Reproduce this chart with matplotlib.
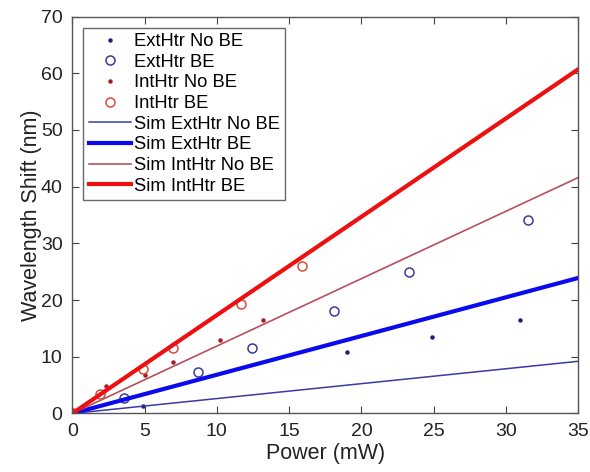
import matplotlib
matplotlib.use("Agg")
import matplotlib.pyplot as plt
import numpy as np

plt.rcParams['font.family'] = ['Liberation Sans', 'DejaVu Sans']

# Measured data
ext_nobe_x = [0, 4.9, 19.0, 24.9, 31.0]
ext_nobe_y = [0, 1.4, 10.9, 13.4, 16.4]
ext_be_x = [0, 3.6, 8.7, 12.4, 18.1, 23.3, 31.5]
ext_be_y = [0, 2.8, 7.4, 11.6, 18.1, 24.9, 34.1]
int_nobe_x = [0, 2.3, 5.0, 7.0, 10.2, 13.2]
int_nobe_y = [0, 4.9, 6.8, 9.1, 12.9, 16.4]
int_be_x = [0, 1.9, 4.9, 7.0, 11.7, 15.9]
int_be_y = [0, 3.5, 7.9, 11.6, 19.3, 26.0]

# Simulated lines
sim_x = [0, 35]
sim_ext_nobe = [0, 9.2]
sim_ext_be = [0, 23.9]
sim_int_nobe = [0, 41.6]
sim_int_be = [0, 60.7]

labels = ["ExtHtr No BE", "ExtHtr BE", "IntHtr No BE", "IntHtr BE",
          "Sim ExtHtr No BE", "Sim ExtHtr BE", "Sim IntHtr No BE", "Sim IntHtr BE"]

fig = plt.figure(figsize=(5.9, 4.72), dpi=100)
ax = fig.add_axes([0.1225, 0.124, 0.8575, 0.841])

ax.plot(ext_nobe_x, ext_nobe_y, linestyle='none', marker='o', markersize=2.2,
        color='#1c1c7a', label=labels[0])
ax.plot(ext_be_x, ext_be_y, linestyle='none', marker='o', markersize=6.5,
        markerfacecolor='none', markeredgecolor='#3a3aa0', markeredgewidth=1.1, label=labels[1])
ax.plot(int_nobe_x, int_nobe_y, linestyle='none', marker='o', markersize=2.2,
        color='#a51c24', label=labels[2])
ax.plot(int_be_x, int_be_y, linestyle='none', marker='o', markersize=6.5,
        markerfacecolor='none', markeredgecolor='#d0503c', markeredgewidth=1.1, label=labels[3])
ax.plot(sim_x, sim_ext_nobe, color='#3a3aa8', lw=1.1, label=labels[4])
ax.plot(sim_x, sim_ext_be, color='#0a0aee', lw=3.0, label=labels[5])
ax.plot(sim_x, sim_int_nobe, color='#b8505c', lw=1.2, label=labels[6])
ax.plot(sim_x, sim_int_be, color='#ee1010', lw=3.0, label=labels[7])

ax.set_xlim(0, 35)
ax.set_ylim(0, 70)
ax.set_xticks(np.arange(0, 36, 5))
ax.set_yticks(np.arange(0, 71, 10))
ax.tick_params(direction='in', top=True, right=True, length=5, width=0.8,
               colors='#444444', labelcolor='#222222', labelsize=14)
ax.tick_params(axis='x', pad=7)
ax.tick_params(axis='y', pad=7)
for s in ax.spines.values():
    s.set_color('#555555')
    s.set_linewidth(1.0)

ax.set_xlabel("Power (mW)", fontsize=15.5, color='#222222', labelpad=2)
ax.set_ylabel("Wavelength Shift (nm)", fontsize=15.5, color='#222222', labelpad=-1)

leg = ax.legend(loc='upper left', fontsize=13.2, frameon=True, fancybox=False,
                edgecolor='#444444', handlelength=2.3, handletextpad=0.15,
                labelspacing=0.2, borderpad=0.3, borderaxespad=0.6)
leg.get_frame().set_linewidth(1.0)

fig.savefig("out.png", dpi=100)
